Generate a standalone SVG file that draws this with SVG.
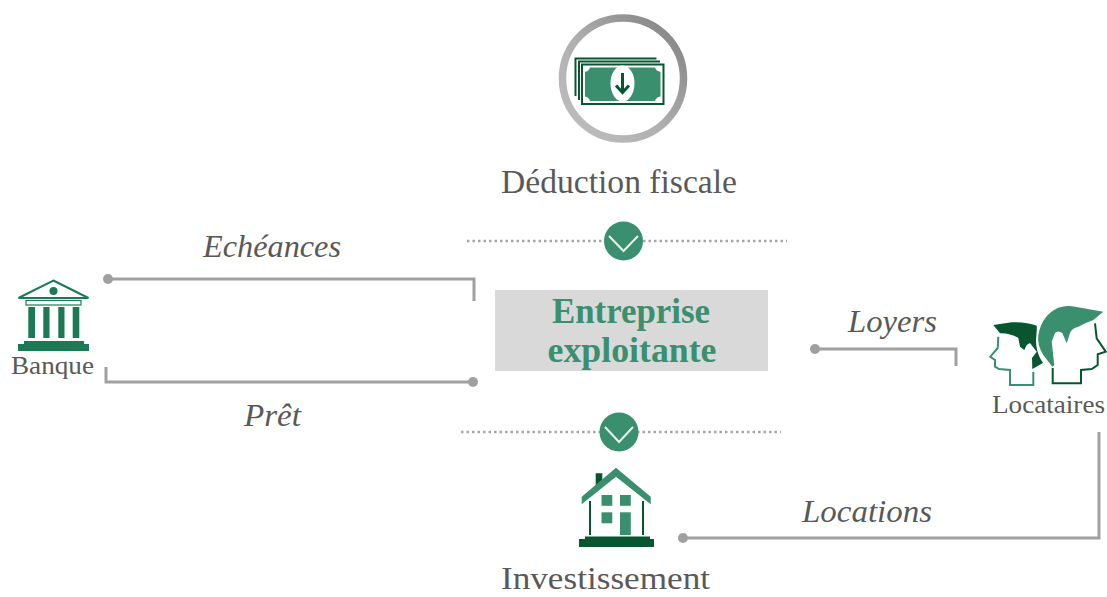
<svg xmlns="http://www.w3.org/2000/svg" width="1107" height="597" viewBox="0 0 1107 597">
<defs>
<linearGradient id="ring" x1="1" y1="0" x2="0" y2="1"><stop offset="0" stop-color="#7f7f7f"/><stop offset="0.55" stop-color="#b0b0b0"/><stop offset="1" stop-color="#bfbfbf"/></linearGradient>
<marker id="dot" viewBox="0 0 10 10" refX="5" refY="5" markerWidth="10" markerHeight="10" markerUnits="userSpaceOnUse"><circle cx="5" cy="5" r="5" fill="#a0a0a0"/></marker>
</defs>
<style>
text{font-family:"Liberation Serif",serif;fill:#595959}
.lbl{font-size:31px;font-style:italic}
.big{font-size:33px}
.sm{font-size:25px}
.title{font-size:35px;font-weight:bold;fill:#3a8f6e;text-anchor:middle}
.con{fill:none;stroke:#a0a0a0;stroke-width:3}
.dots{fill:none;stroke:#a6a6a6;stroke-width:2.5;stroke-dasharray:2.5 3}
.chev{fill:none;stroke:#e8f2ee;stroke-width:2}
.mid{fill:#3a8f6e}
.dark{fill:#07562f}
.bank{fill:#1b7a55}
</style>
<g id="connectors">
<path class="con" d="M108 279H474V301" marker-start="url(#dot)"/>
<path class="con" d="M106 367V382H473" marker-end="url(#dot)"/>
<path class="con" d="M815 349H956V366" marker-start="url(#dot)"/>
<path class="con" d="M1099 432V538H683" marker-end="url(#dot)"/>
<path class="dots" d="M467 241H787"/>
<path class="dots" d="M461 432H781"/>
</g>
<g id="node-deduction">
<circle cx="623" cy="78.500" r="60.500" fill="#fff" stroke="url(#ring)" stroke-width="7.500"/>
<path d="M574.500 57.500H656.500V59.500H576.500V96H574.500Z" class="dark"/>
<path d="M578 60.500H660V62.500H580V100H578Z" class="dark"/>
<rect x="582" y="64.500" width="81.500" height="39.500" fill="#fff" stroke="#07562f" stroke-width="2"/>
<path class="mid" d="M590 67.500H655Q656 71 660.500 72V96.500Q656 97 655 101H590Q589 97 585 96.500V72Q589 71 590 67.500Z"/>
<ellipse cx="622.500" cy="83.500" rx="12" ry="18" fill="#fff"/>
<path d="M622.500 73V92M616 85.500L622.500 92.500L629 85.500" fill="none" stroke="#07562f" stroke-width="3"/>
<text class="big" x="501" y="193" textLength="236" lengthAdjust="spacingAndGlyphs">Déduction fiscale</text>
</g>
<g id="chevron-top">
<circle cx="623.500" cy="241" r="19.500" class="mid"/>
<path class="chev" d="M609 236L623.500 251L638 236"/>
</g>
<g id="node-banque">
<path d="M53.300 280.500L88.500 298H18.500Z" fill="#fff" stroke="#1b7a55" stroke-width="2"/>
<circle cx="53.500" cy="291" r="4" class="bank"/>
<rect x="26" y="300.500" width="55" height="4.500" fill="#fff" stroke="#1b7a55" stroke-width="1.200"/>
<rect x="28.300" y="307" width="6.700" height="31" class="bank"/>
<rect x="43.300" y="307" width="6.200" height="31" class="bank"/>
<rect x="58.300" y="307" width="6.200" height="31" class="bank"/>
<rect x="72.700" y="307" width="6.600" height="31" class="bank"/>
<path class="bank" d="M24 341H84V344H89V351H18V344H24Z"/>
<text class="sm" x="11" y="374" textLength="83" lengthAdjust="spacingAndGlyphs">Banque</text>
</g>
<g id="node-entreprise">
<rect x="495" y="290" width="273" height="81" fill="#d9d9d9"/>
<text class="title" x="631" y="323" textLength="158" lengthAdjust="spacingAndGlyphs">Entreprise</text>
<text class="title" x="632" y="362" textLength="169" lengthAdjust="spacingAndGlyphs">exploitante</text>
</g>
<g id="node-locataires">
<path class="dark" d="M993.300 325L1011.700 322.300Q1026 322 1036.700 325.700Q1037 330 1036 340Q1036 350 1040 358L1043 363L1032.300 369L1032 358L1036.700 351.700L1030 343L1026.700 345L1024.300 350L1020 346.700L1018.300 338Q1010 333 1000 333.300Z"/>
<path d="M998.300 336.700L997.700 348L990.300 356.700L995 360V366.700L999 369L1010 370V385H1033.300V372" fill="none" stroke="#3a8f6e" stroke-width="2"/>
<path class="mid" d="M1038.300 335Q1042 315 1058.300 307.700Q1066 305 1075 306.700L1103.300 311.700L1093.300 320Q1085 323 1078.300 326.700Q1072 328 1070 333L1066.700 343.300L1062.300 333Q1058 330 1055 333L1051.700 341.700L1054.300 365L1052.300 366.700L1043.300 355Q1037 345 1038.300 335Z"/>
<path d="M1095 323.300L1096.700 338.300L1105.700 351.700L1097.700 354.300V365L1091.700 369L1081 370V383.300H1052.700V368" fill="none" stroke="#07562f" stroke-width="2"/>
<text class="sm" x="992" y="413" textLength="113" lengthAdjust="spacingAndGlyphs">Locataires</text>
</g>
<g id="chevron-bottom">
<circle cx="619" cy="432" r="19.500" class="mid"/>
<path class="chev" d="M605 427L619 442L633 427"/>
</g>
<g id="node-investissement">
<path class="dark" d="M595.700 473.300H602.300V482L595.700 487Z"/>
<path class="mid" d="M581.700 496.700V504.300L616 476.700L650.700 504.300V496.700L616 467.700Z"/>
<rect x="589" y="501" width="2" height="34" class="dark"/>
<rect x="642" y="501" width="2" height="34" class="dark"/>
<rect x="601.500" y="495" width="10.800" height="10.800" class="mid"/>
<rect x="620" y="495" width="10.800" height="10.800" class="mid"/>
<rect x="601.500" y="512.300" width="10.800" height="11" class="mid"/>
<rect x="620" y="512.300" width="10.800" height="22.700" class="mid"/>
<path class="dark" d="M585 536.500H650V539H654V547H579V539H585Z"/>
<text class="big" x="501" y="589" style="font-size:31px" textLength="209" lengthAdjust="spacingAndGlyphs">Investissement</text>
</g>
<text class="lbl" x="203" y="257" textLength="138" lengthAdjust="spacingAndGlyphs">Echéances</text>
<text class="lbl" x="244" y="426" textLength="57" lengthAdjust="spacingAndGlyphs">Prêt</text>
<text class="lbl" x="848" y="332" textLength="89" lengthAdjust="spacingAndGlyphs">Loyers</text>
<text class="lbl" x="802" y="522" textLength="130" lengthAdjust="spacingAndGlyphs">Locations</text>
</svg>
